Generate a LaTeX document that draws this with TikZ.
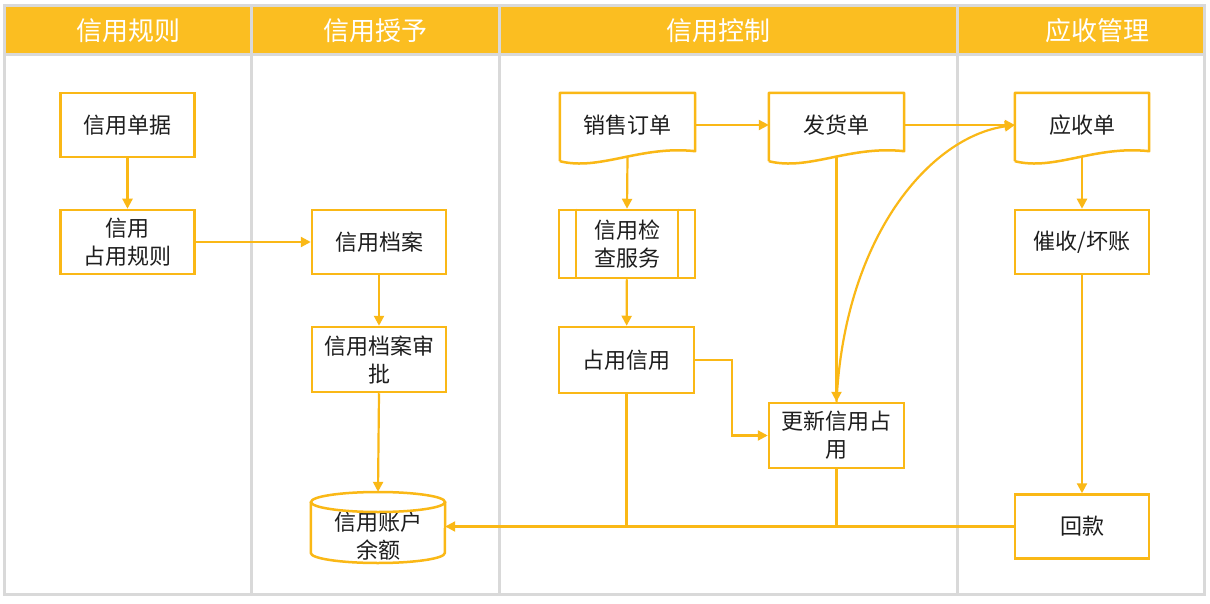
\documentclass[tikz,border=0pt]{standalone}
\usepackage{fontspec}
\newfontfamily\cjk{Noto Sans CJK SC}
\usetikzlibrary{arrows.meta,calc}
\definecolor{hdr}{RGB}{251,190,33}
\definecolor{ln}{RGB}{250,184,22}
\definecolor{frm}{RGB}{217,217,217}
\definecolor{txt}{RGB}{30,30,30}
\begin{document}
\begin{tikzpicture}[x=1pt,y=-1pt,
  hdrtext/.style={text=white,font=\cjk\fontsize{26}{30}\selectfont},
  box/.style={draw=ln,line width=2.5pt,fill=white,minimum width=134pt,minimum height=64pt,
    align=center,text=txt,font=\cjk\fontsize{22}{28}\selectfont,inner sep=2pt},
  docbox/.style={minimum width=135pt,minimum height=64pt,align=center,text=txt,
    font=\cjk\fontsize{22}{28}\selectfont,inner sep=2pt},
  conn/.style={draw=ln,line width=2.2pt},
  arr/.style={conn,-{Triangle[length=10pt,width=10pt]}},
  frame/.style={draw=frm,line width=3pt}
]
\useasboundingbox (0,0) rectangle (1210,604);
\fill[white] (0,0) rectangle (1210,604);
% header band
\fill[hdr] (4,5) rectangle (1205,55);
% frame
\draw[frame] (4.5,5.5) rectangle (1204.5,594.5);
\draw[frame] (4.5,55) -- (1204.5,55);
\draw[frame] (251,5.5) -- (251,594.5);
\draw[frame] (499.5,5.5) -- (499.5,594.5);
\draw[frame] (957.5,5.5) -- (957.5,594.5);
% header texts
\node[hdrtext] (h1) at (128,31) {信用规则};
\node[hdrtext] (h2) at (375,31) {信用授予};
\node[hdrtext] (h3) at (718,31) {信用控制};
\node[hdrtext] (h4) at (1097,31) {应收管理};

% column 1
\node[box] (rd) at (127.5,125) {信用单据};
\node[box] (rule) at (127.5,242) {信用\\占用规则};
% column 2
\node[box] (da) at (379,242) {信用档案};
\node[box,minimum height=65pt] (sp) at (379,359.5) {信用档案审\\批};
\node[docbox,minimum width=134pt,minimum height=88pt] (acct) at (378,536) {信用账户\\余额};
% column 3
\node[docbox] (so) at (627.5,125) {销售订单};
\node[docbox] (fh) at (836.5,125) {发货单};
\node[box,minimum width=136pt,minimum height=68pt] (jc) at (627,244) {信用检\\查服务};
\node[box,minimum width=135pt,minimum height=66pt] (zy) at (626.5,360) {占用信用};
\node[box,minimum width=135pt,minimum height=65pt] (upd) at (836.5,435.5) {更新信用占\\用};
% column 4
\node[docbox,minimum width=134pt] (ys) at (1082,125) {应收单};
\node[box] (cs) at (1082,242) {催收/坏账};
\node[box] (hk) at (1082,526.5) {回款};

% document outlines
\foreach \n in {so,fh,ys}{
  \draw[ln,line width=2.5pt,line join=round]
    ($(\n.south west)+(0,4)$) -- (\n.north west) -- (\n.north east) -- ($(\n.south east)+(0,-6)$)
    .. controls ($(\n.south east)+(-55,-12)$) and ($(\n.south west)+(40,14)$) .. ($(\n.south west)+(0,4)$);
}
% predefined process inner lines
\draw[ln,line width=2.5pt] ($(jc.north)+(-51,0)$) -- ($(jc.south)+(-51,0)$);
\draw[ln,line width=2.5pt] ($(jc.north)+(51,0)$) -- ($(jc.south)+(51,0)$);

% connectors
\draw[arr] (rd) -- (rule);
\draw[arr] (rule) -- (da);
\draw[arr] (da) -- (sp);
\draw[arr] (so) -- (fh);
\draw[arr] (so.south) -- (jc.north);
\draw[arr] (jc) -- (zy);
\draw[arr] (zy.east) -- ++(37,0) |- (upd.west);
\draw[arr] (fh.south) -- (upd.north);
\draw[arr] (fh) -- (ys);
\draw[arr] (upd.north) .. controls ($(upd.north)+(8,-165)$) and ($(ys.west)+(-85,12)$) .. (ys.west);
\draw[arr] (ys.south) -- (cs.north);
\draw[arr] (cs) -- (hk);
\draw[conn] (zy.south) -- (zy.south |- hk.west);
\draw[conn] (upd.south) -- (upd.south |- hk.west);
\draw[arr] (hk.west) -- (hk.west -| acct.east);
\draw[arr] (sp.south) -- (acct.north);
% cylinder outline
\draw[ln,line width=2.5pt]
  ($(acct.west)+(0,-34)$) -- ($(acct.west)+(0,17)$)
  arc[start angle=180,end angle=0,x radius=67,y radius=10]
  -- ($(acct.east)+(0,-34)$);
\draw[ln,line width=2.5pt] ($(acct.center)+(0,-34)$) ellipse[x radius=67,y radius=10];
\end{tikzpicture}
\end{document}
